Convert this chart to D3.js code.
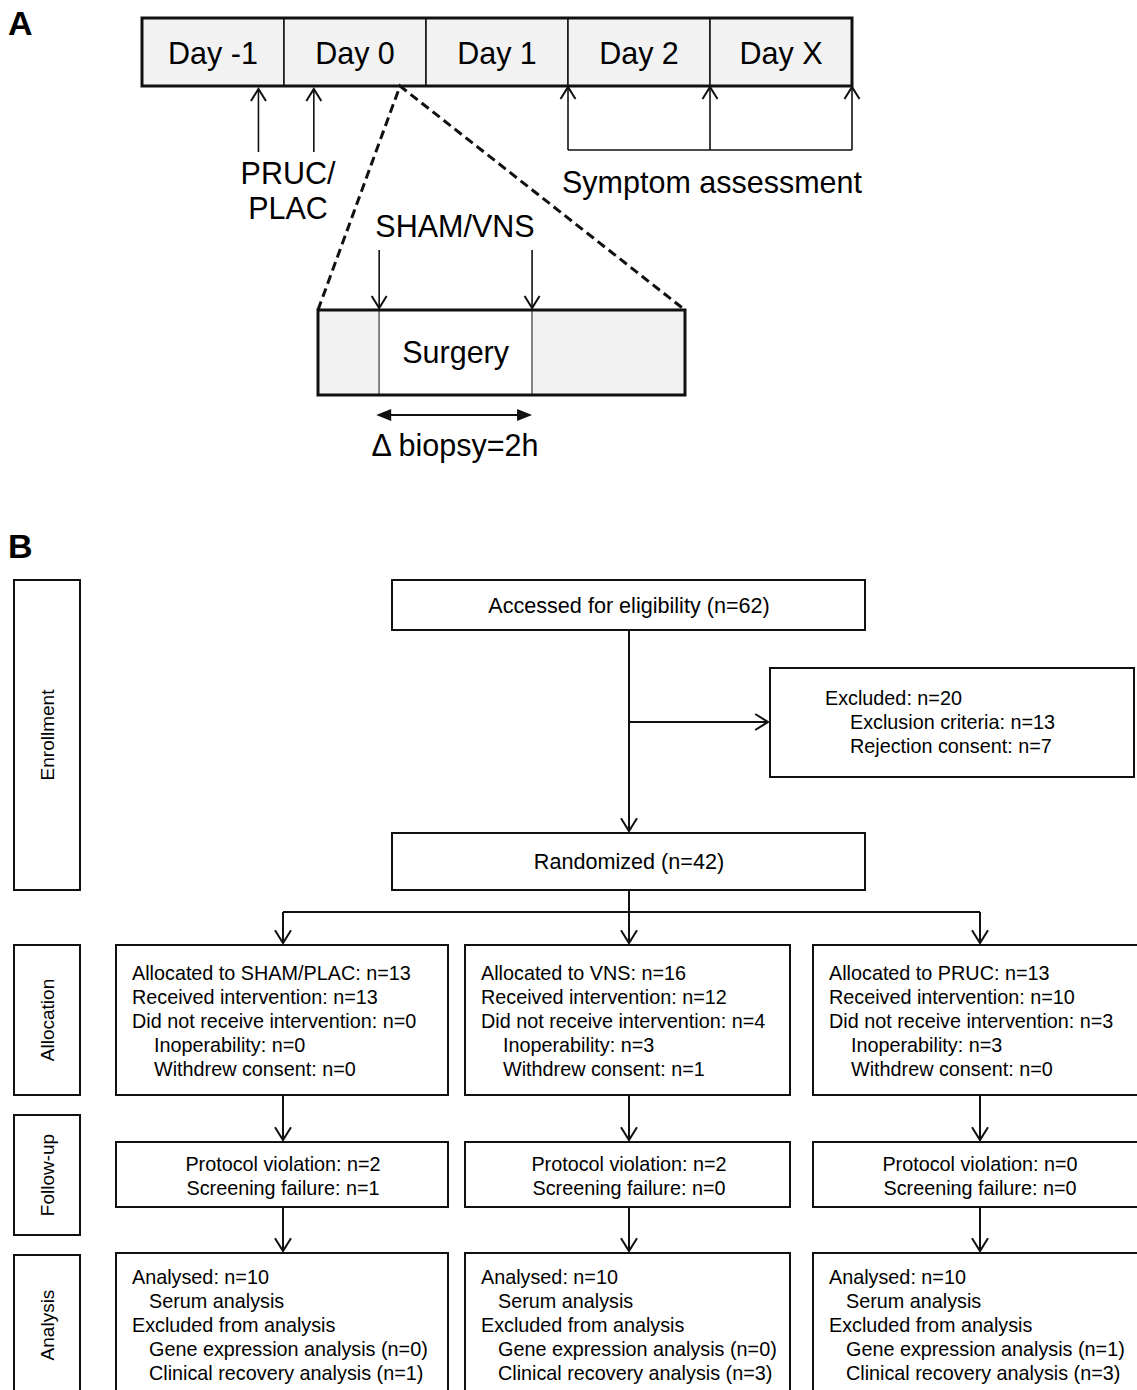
<!DOCTYPE html>
<html>
<head>
<meta charset="utf-8">
<script src="https://cdn.jsdelivr.net/npm/d3@7"></script>
<style>
  html, body { margin: 0; padding: 0; background: #fff; }
  svg { display: block; font-family: Arial, "Liberation Sans", sans-serif; }
</style>
</head>
<body>
<svg id="viz"></svg>
<script>
// ---- data ----
var days = ["Day -1", "Day 0", "Day 1", "Day 2", "Day X"];
var doseLabel = ["PRUC/", "PLAC"];
var doseDays = [["Day -1", 0.82], ["Day 0", 0.21]];
var symptomDays = ["Day 2", "Day X"];
var surgeryHours = [-0.8, 0, 2, 4];      // zoom of Day 0, biopsy window 0..2h
var surgeryLabel = "Surgery";
var stimLabel = "SHAM/VNS";
var biopsyLabel = "\u0394 biopsy=2h";

var phases = ["Enrollment", "Allocation", "Follow-up", "Analysis"];
var arms = ["SHAM/PLAC", "VNS", "PRUC"];
var assessed = "Accessed for eligibility (n=62)";
var randomized = "Randomized (n=42)";
var excluded = [
  ["Excluded: n=20", 0],
  ["Exclusion criteria: n=13", 1],
  ["Rejection consent: n=7", 1]
];
var allocation = [
  [["Allocated to SHAM/PLAC: n=13", 0], ["Received intervention: n=13", 0], ["Did not receive intervention: n=0", 0], ["Inoperability: n=0", 1], ["Withdrew consent: n=0", 1]],
  [["Allocated to VNS: n=16", 0], ["Received intervention: n=12", 0], ["Did not receive intervention: n=4", 0], ["Inoperability: n=3", 1], ["Withdrew consent: n=1", 1]],
  [["Allocated to PRUC: n=13", 0], ["Received intervention: n=10", 0], ["Did not receive intervention: n=3", 0], ["Inoperability: n=3", 1], ["Withdrew consent: n=0", 1]]
];
var followUp = [
  ["Protocol violation: n=2", "Screening failure: n=1"],
  ["Protocol violation: n=2", "Screening failure: n=0"],
  ["Protocol violation: n=0", "Screening failure: n=0"]
];
var analysis = [
  [["Analysed: n=10", 0], ["Serum analysis", 1], ["Excluded from analysis", 0], ["Gene expression analysis (n=0)", 1], ["Clinical recovery analysis (n=1)", 1]],
  [["Analysed: n=10", 0], ["Serum analysis", 1], ["Excluded from analysis", 0], ["Gene expression analysis (n=0)", 1], ["Clinical recovery analysis (n=3)", 1]],
  [["Analysed: n=10", 0], ["Serum analysis", 1], ["Excluded from analysis", 0], ["Gene expression analysis (n=1)", 1], ["Clinical recovery analysis (n=3)", 1]]
];

// ---- svg ----
var W = 1137, H = 1390;
let svg = d3.select("#viz").attr("width", W).attr("height", H);
var ink = "#111";

function box(g, x, y, w, h, sw, fill) {
  return g.append("rect")
    .attr("x", x).attr("y", y).attr("width", w).attr("height", h)
    .attr("fill", fill || "#fff").attr("stroke", ink).attr("stroke-width", sw || 2);
}
function line(g, x1, y1, x2, y2, sw) {
  return g.append("line")
    .attr("x1", x1).attr("y1", y1).attr("x2", x2).attr("y2", y2)
    .attr("stroke", ink).attr("stroke-width", sw || 2);
}
// open chevron head, tip at (x,y); dir: "up" | "down" | "right"
function head(g, x, y, dir, s) {
  s = s || 8;
  var d;
  if (dir == "up") d = [[x - s, y + s * 1.6], [x, y], [x + s, y + s * 1.6]];
  else if (dir == "down") d = [[x - s, y - s * 1.6], [x, y], [x + s, y - s * 1.6]];
  else d = [[x - s * 1.6, y - s], [x, y], [x - s * 1.6, y + s]];
  g.append("path").attr("d", d3.line()(d))
    .attr("fill", "none").attr("stroke", ink).attr("stroke-width", 2);
}
function text(g, x, y, s, size, anchor) {
  return g.append("text").attr("x", x).attr("y", y)
    .attr("font-size", size).attr("text-anchor", anchor || "start")
    .attr("fill", "#000").text(s);
}

// ================= Panel A =================
let gA = svg.append("g");
gA.append("text").attr("x", 8).attr("y", 35).attr("font-size", 34)
  .attr("font-weight", "bold").text("A");

var fA = 30.5;
var tTop = 18, tH = 68;
var xDay = d3.scaleBand().domain(days).range([142, 852]);

gA.selectAll("rect.day").data(days).enter().append("rect")
  .attr("class", "day")
  .attr("x", d => xDay(d)).attr("y", tTop)
  .attr("width", xDay.bandwidth()).attr("height", tH)
  .attr("fill", "#f2f2f2").attr("stroke", ink).attr("stroke-width", 1.5);
box(gA, 142, tTop, 710, tH, 3, "none");
gA.selectAll("text.day").data(days).enter().append("text")
  .attr("class", "day")
  .attr("x", d => xDay(d) + xDay.bandwidth() / 2).attr("y", tTop + 46)
  .attr("text-anchor", "middle").attr("font-size", fA).text(d => d);

// drug arrows
var tBot = tTop + tH;
doseDays.forEach(function (d) {
  var x = xDay(d[0]) + d[1] * xDay.bandwidth();
  line(gA, x, tBot + 3, x, 152, 1.6);
  head(gA, x, tBot + 3, "up", 7.5);
});
doseLabel.forEach(function (s, i) {
  text(gA, 288, 184 + i * 35, s, fA, "middle");
});

// symptom assessment bracket
var sx = [xDay(symptomDays[0]), xDay(symptomDays[1]), xDay(symptomDays[1]) + xDay.bandwidth()];
sx.forEach(function (x) {
  line(gA, x, tBot + 1, x, 150, 1.6);
  head(gA, x, tBot + 1, "up", 7.5);
});
line(gA, sx[0], 150, sx[2], 150, 1.6);
text(gA, 712, 193, "Symptom assessment", fA, "middle");

// zoom-in of day 0
var xS = d3.scaleLinear()
  .domain([surgeryHours[0], surgeryHours[3]])
  .range([318, 685]);
var sTop = 310, sH = 85;
var apex = [400, tBot];
gA.append("path")
  .attr("d", d3.line()([[xS(surgeryHours[0]), sTop], apex, [xS(surgeryHours[3]), sTop]]))
  .attr("fill", "none").attr("stroke", ink).attr("stroke-width", 3)
  .attr("stroke-dasharray", "9,5");

var segs = d3.pairs(surgeryHours);
gA.selectAll("rect.seg").data(segs).enter().append("rect")
  .attr("class", "seg")
  .attr("x", d => xS(d[0])).attr("y", sTop)
  .attr("width", d => xS(d[1]) - xS(d[0])).attr("height", sH)
  .attr("fill", (d, i) => i == 1 ? "#fff" : "#f2f2f2")
  .attr("stroke", "#444").attr("stroke-width", 1);
box(gA, xS(surgeryHours[0]), sTop, xS(surgeryHours[3]) - xS(surgeryHours[0]), sH, 3, "none");
text(gA, (xS(surgeryHours[1]) + xS(surgeryHours[2])) / 2, sTop + 53, surgeryLabel, fA, "middle");

// stimulation arrows
text(gA, 455, 237, stimLabel, fA, "middle");
[surgeryHours[1], surgeryHours[2]].forEach(function (h) {
  var x = xS(h);
  line(gA, x, 250, x, sTop - 2, 1.6);
  head(gA, x, sTop - 2, "down", 7.5);
});

// biopsy interval double arrow
var bx1 = xS(surgeryHours[1]) - 3, bx2 = xS(surgeryHours[2]), by = 415;
line(gA, bx1 + 8, by, bx2 - 8, by, 2.2);
gA.append("path").attr("d", d3.line()([[bx1, by], [bx1 + 15, by - 6], [bx1 + 15, by + 6]]) + "Z").attr("fill", ink);
gA.append("path").attr("d", d3.line()([[bx2, by], [bx2 - 15, by - 6], [bx2 - 15, by + 6]]) + "Z").attr("fill", ink);
text(gA, 455, 456, biopsyLabel, fA, "middle");

// ================= Panel B =================
let gB = svg.append("g");
gB.append("text").attr("x", 8).attr("y", 558).attr("font-size", 34)
  .attr("font-weight", "bold").text("B");

var fs = 19.8, lh = 24;

// phase side boxes
var phaseY = [[580, 890], [945, 1095], [1115, 1235], [1255, 1400]];
phases.forEach(function (p, i) {
  var y0 = phaseY[i][0], y1 = phaseY[i][1];
  box(gB, 14, y0, 66, y1 - y0, 2);
  var cy = i == 3 ? 1325 : (y0 + y1) / 2;
  gB.append("text")
    .attr("transform", "translate(54," + cy + ") rotate(-90)")
    .attr("text-anchor", "middle").attr("font-size", 19).text(p);
});

// top of flow
var xArm = d3.scaleOrdinal().domain(arms).range([283, 629, 980]);
var cx0 = xArm("VNS");
box(gB, 392, 580, 473, 50, 2);
text(gB, cx0, 613, assessed, 21.6, "middle");
line(gB, cx0, 630, cx0, 831);
head(gB, cx0, 831, "down", 8);
line(gB, cx0, 722, 768, 722);
head(gB, 768, 722, "right", 8);

box(gB, 770, 668, 364, 109, 2);
excluded.forEach(function (d, i) {
  text(gB, 825 + d[1] * 25, 705 + i * lh, d[0], fs);
});

box(gB, 392, 833, 473, 57, 2);
text(gB, cx0, 869, randomized, 21.6, "middle");

// split to arms
line(gB, cx0, 890, cx0, 912);
line(gB, xArm(arms[0]), 912, xArm(arms[2]), 912);

var bx = [116, 465, 813];
var bw = [332, 325, 330];
arms.forEach(function (a, i) {
  var cx = xArm(a);
  var left = bx[i];
  var w = bw[i];
  // allocation
  line(gB, cx, 912, cx, 943);
  head(gB, cx, 943, "down", 8);
  box(gB, left, 945, w, 150, 2);
  allocation[i].forEach(function (d, j) {
    text(gB, left + 16 + d[1] * 22, 980 + j * lh, d[0], fs);
  });
  // follow-up
  line(gB, cx, 1095, cx, 1140);
  head(gB, cx, 1140, "down", 8);
  box(gB, left, 1142, w, 65, 2);
  followUp[i].forEach(function (s, j) {
    text(gB, cx, 1171 + j * lh, s, fs, "middle");
  });
  // analysis
  line(gB, cx, 1207, cx, 1251);
  head(gB, cx, 1251, "down", 8);
  box(gB, left, 1253, w, 160, 2);
  analysis[i].forEach(function (d, j) {
    text(gB, left + 16 + d[1] * 17, 1284 + j * lh, d[0], fs);
  });
});
</script>
</body>
</html>
